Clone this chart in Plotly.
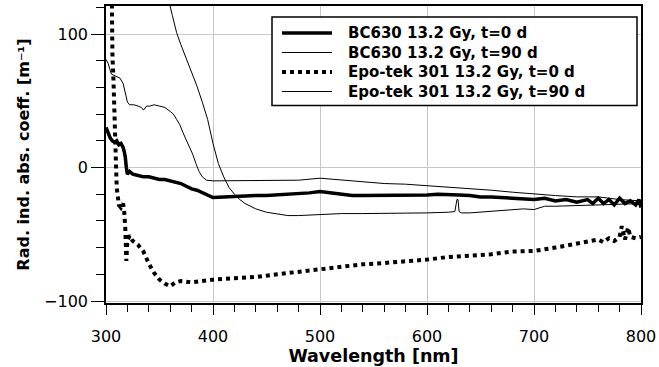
import plotly.graph_objects as go

# BC630 13.2 Gy, t=0 d (thick solid)
bc0_x = [300, 302, 304, 306, 308, 310, 312, 314, 316, 317, 318, 319, 320, 322, 325, 330, 335, 340, 345,
         350, 355, 360, 365, 370, 375, 380, 385, 390, 395, 400, 410, 420, 430, 440, 450, 460, 470, 480,
         490, 500, 510, 520, 530, 540, 550, 560, 570, 580, 590, 600, 610, 620, 630, 640, 650, 660, 670,
         680, 690, 700, 710, 720, 730, 740, 750, 755, 760, 765, 770, 775, 780, 785, 790, 795, 798, 800]
bc0_y = [30, 25, 22, 20, 19, 20, 17, 18, 15, 12, 8, 0, -5, -3, -5, -6, -7, -7, -8,
         -9, -9, -10, -11, -12, -14, -16, -17, -19, -21, -22.5, -22, -21.5, -21, -21, -21, -20.5, -20.5, -20,
         -19, -18, -19, -20, -21, -21, -21, -21, -21, -21, -20.5, -20.5, -20, -20, -20.5, -21, -22, -22, -22.5,
         -23, -23, -24, -23, -25, -24, -26, -24, -27, -23, -27, -24, -28, -23, -27, -25, -28, -24, -30]

# BC630 13.2 Gy, t=90 d (thin solid)
bc90_x = [300, 302, 305, 308, 311, 313, 316, 318, 320, 322, 326, 330, 333, 335, 338, 341, 345, 350, 355,
          360, 363, 366, 369, 372, 375, 378, 381, 384, 387, 390, 394, 400, 410, 420, 440, 460, 480, 500,
          520, 540, 560, 580, 600, 620, 640, 660, 680, 700, 720, 740, 760, 780, 800]
bc90_y = [81, 78, 70, 69, 68, 67, 63, 56, 49, 47, 47, 46, 45, 43, 46, 46, 47, 46, 45,
          42, 40, 36, 32, 26, 21, 16, 10, 3, -3, -7, -9.5, -10, -10, -10, -9.5, -9.5, -9.5, -8,
          -9.5, -10.5, -12, -12.5, -13.5, -15, -16, -17, -18.5, -20, -21, -22, -22, -24, -25]

# Epo-tek 301 13.2 Gy, t=0 d (thick dotted)
ep0_x = [304.5, 305, 306, 307, 308, 309, 310, 312, 314, 316, 317, 318, 319, 320, 322, 325, 330, 335, 340,
         345, 350, 355, 360, 365, 370, 380, 390, 400, 420, 440, 460, 480, 500, 520, 540, 560, 580, 600,
         620, 640, 660, 680, 700, 720, 740, 750, 760, 765, 770, 775, 780, 782, 785, 788, 790, 795, 800]
ep0_y = [200, 110, 85, 65, 40, 15, -15, -28, -30, -27, -33, -45, -70, -55, -51, -55, -58, -63, -72,
         -79, -84, -87, -89, -86, -85, -86, -85, -84, -83, -82, -80, -78, -76, -74, -72.5, -71.5, -70.5, -69,
         -67, -66, -65, -63, -62.5, -60, -57, -56, -54, -56, -53, -55, -52, -44, -54, -45, -52, -53, -52]

# Epo-tek 301 13.2 Gy, t=90 d (thin solid)
ep90_x = [356, 358, 362, 366, 370, 375, 380, 385, 390, 395, 400, 405, 410, 415, 420, 425, 430, 440, 450,
          460, 470, 480, 500, 520, 540, 560, 580, 600, 620, 626, 628, 629, 630, 632, 640, 660, 680, 690,
          700, 710, 720, 740, 760, 780, 800]
ep90_y = [135, 127, 114, 101, 92, 82, 72, 61, 49, 36, 18, 3, -7, -15, -20, -24, -27, -31, -33.5,
          -35, -36, -36, -35, -34.5, -34.5, -34.5, -34.5, -34, -33.5, -33, -24, -24, -33, -34, -34, -33, -32, -31,
          -31.5, -29, -29, -28.5, -28, -27, -27]

names = ["BC630 13.2 Gy, t=0 d", "BC630 13.2 Gy, t=90 d",
         "Epo-tek 301 13.2 Gy, t=0 d", "Epo-tek 301 13.2 Gy, t=90 d"]

x_ticks = [300, 400, 500, 600, 700, 800]
y_ticks = [-100, 0, 100]
y_ticktext = ["\u2212100", "0", "100"]

series = [(bc0_x, bc0_y, 3.5, "solid"), (bc90_x, bc90_y, 1, "solid"),
          (ep0_x, ep0_y, 4, "dot"), (ep90_x, ep90_y, 1, "solid")]

fig = go.Figure()
for (xs, ys, w, d), nm in zip(series, names):
    fig.add_trace(go.Scatter(x=xs, y=ys, mode="lines", name=nm, showlegend=False,
                             line=dict(color="black", width=w, dash=d)))

# legend box drawn in plot-area (paper) fractions
W, H, L, T = 535.0, 297.0, 106.0, 6.0
def px(xp): return (xp - L) / W
def py(yp): return 1 - (yp - T) / H

fs = 15
row0, gap = 33.0, fs * 1.3
box_bottom = row0 + 3 * gap + 14
shapes = [dict(type="rect", xref="paper", yref="paper", x0=px(272), x1=px(637), y0=py(box_bottom), y1=py(17),
               line=dict(color="black", width=1.5), fillcolor="white", layer="above")]
for i, (xs, ys, w, d) in enumerate(series):
    yc = py(row0 + i * gap)
    shapes.append(dict(type="line", xref="paper", yref="paper", x0=px(282), x1=px(332), y0=yc, y1=yc,
                       line=dict(color="black", width=w, dash=d), layer="above"))
annotations = [dict(xref="paper", yref="paper", x=px(346), y=py(row0 + 1.5 * gap),
                    xanchor="left", yanchor="middle", align="left",
                    text="<br>".join(names), showarrow=False,
                    font=dict(family="DejaVu Sans", size=fs, color="black", weight="bold"))]

fig.update_layout(
    width=659, height=367,
    margin=dict(l=106, r=18, t=6, b=64),
    plot_bgcolor="white", paper_bgcolor="white",
    font=dict(family="DejaVu Sans", size=16, color="black"),
    showlegend=False,
    shapes=shapes, annotations=annotations,
    xaxis=dict(range=[300, 800], tickvals=x_ticks, automargin=False,
               showgrid=True, gridcolor="#c8c8c8", gridwidth=1,
               showline=True, linecolor="black", linewidth=1.5, mirror=True,
               ticks="outside", ticklen=10, tickcolor="black", ticklabelstandoff=8,
               minor=dict(dtick=20, ticks="outside", ticklen=7, tickcolor="black", showgrid=False),
               zeroline=False,
               title=dict(text="Wavelength [nm]", font=dict(size=17.5, weight="bold"), standoff=2)),
    yaxis=dict(range=[-101.5, 121], tickvals=y_ticks, ticktext=y_ticktext, automargin=False,
               showgrid=True, gridcolor="#c8c8c8", gridwidth=1,
               showline=True, linecolor="black", linewidth=1.5, mirror=True,
               ticks="outside", ticklen=13, tickcolor="black",
               minor=dict(dtick=20, ticks="outside", ticklen=8, tickcolor="black", showgrid=False),
               zeroline=False,
               title=dict(text="Rad. ind. abs. coeff. [m\u207b\u00b9]", font=dict(size=16, weight="bold"),
                          standoff=10)),
)

fig.write_html("out.html", config={"displayModeBar": False},
               post_script="document.body.style.margin='0';")
